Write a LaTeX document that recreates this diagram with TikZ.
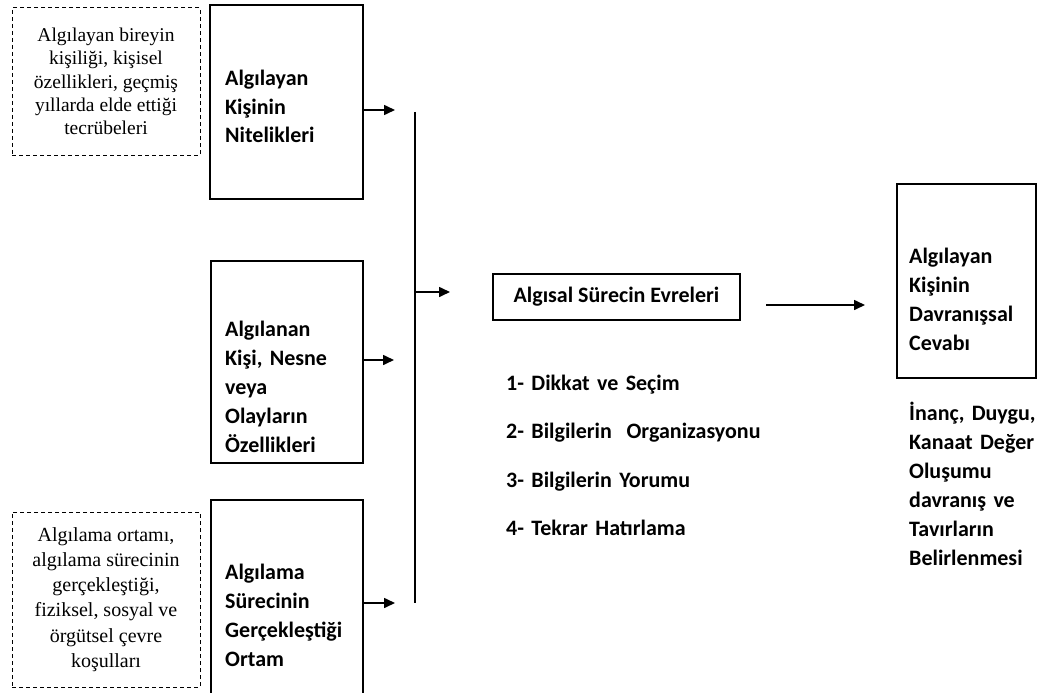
\documentclass[tikz,border=0pt]{standalone}
\usepackage{fontspec}
\setmainfont{Liberation Serif}
\newfontfamily\calibri{Carlito}
\usetikzlibrary{arrows.meta}
\frenchspacing

\begin{document}
\begin{tikzpicture}[x=1pt,y=-1pt,
  frame/.style={draw, line width=1.2pt, inner sep=0pt},
  note/.style={draw, line width=1pt, dash pattern=on 4pt off 3pt, inner sep=0pt, align=center},
  boldtext/.style={anchor=base west, inner sep=0pt, text width=#1, align=left,
    font=\calibri\bfseries\fontsize{22}{29}\selectfont},
  arr/.style={line width=1.6pt, -{Triangle[length=11pt,width=10pt]}}]

\useasboundingbox (0,0) rectangle (1037,693);

% explanatory notes (dashed)
\node[note, minimum width=188pt, minimum height=147pt,
  font=\fontsize{19.5}{23.3}\selectfont] (n1) at (106,81.5)
  {Algılayan bireyin\\kişiliği, kişisel\\özellikleri, geçmiş\\yıllarda elde ettiği\\tecrübeleri};
\node[note, minimum width=188pt, minimum height=175pt,
  font=\fontsize{20}{25.2}\selectfont] (n3) at (106,599.5)
  {Algılama ortamı,\\algılama sürecinin\\gerçekleştiği,\\fiziksel, sosyal ve\\örgütsel çevre\\koşulları};

% input factors
\node[frame, minimum width=153pt, minimum height=194pt] (b1) at (286.5,102) {};
\node[boldtext=140pt] (t1) at (225,85) {Algılayan\\Kişinin\\Nitelikleri};

\node[frame, minimum width=152pt, minimum height=202pt] (b2) at (287,362) {};
\node[boldtext=140pt] (t2) at (225,336) {Algılanan\\Kişi, Nesne\\veya\\Olayların\\Özellikleri};

\node[frame, minimum width=152pt, minimum height=205pt] (b3) at (287,602.5) {};
\node[boldtext=140pt] (t3) at (225,579) {Algılama\\Sürecinin\\Gerçekleştiği\\Ortam};

% collecting bar
\coordinate (bt) at (415,112);
\coordinate (bb) at (415,603);
\draw[line width=1.1pt] (bt) -- (bb);

\coordinate (a1) at (395,110);
\coordinate (a2) at (394,360);
\coordinate (a3) at (395,603);
\draw[arr] (b1.east |- a1) -- (a1);
\draw[arr] (b2.east |- a2) -- (a2);
\draw[arr] (b3.east |- a3) -- (a3);

% perceptual process
\node[frame, minimum width=247pt, minimum height=46pt,
  font=\calibri\bfseries\fontsize{22}{27}\selectfont] (ev) at (616.5,297) {Algısal Sürecin Evreleri};
\coordinate (m) at (450,292);
\draw[arr] (bt |- m) -- (m);

\node[boldtext=300pt, font=\calibri\bfseries\fontsize{22}{48.5}\selectfont] (steps) at (506,390)
  {1- Dikkat ve Seçim\\2- Bilgilerin\ \ Organizasyonu\\3- Bilgilerin Yorumu\\4- Tekrar Hatırlama};

% response
\coordinate (o1) at (766,305);
\coordinate (o2) at (865,305);
\draw[arr] (o1) -- (o2);

\node[frame, minimum width=139pt, minimum height=194pt] (rb) at (966.5,281) {};
\node[boldtext=125pt] (t4) at (909,263) {Algılayan\\Kişinin\\Davranışsal\\Cevabı};
\node[boldtext=128pt] (t5) at (909,420)
  {İnanç, Duygu,\\Kanaat Değer\\Oluşumu\\davranış ve\\Tavırların\\Belirlenmesi};

\end{tikzpicture}
\end{document}
